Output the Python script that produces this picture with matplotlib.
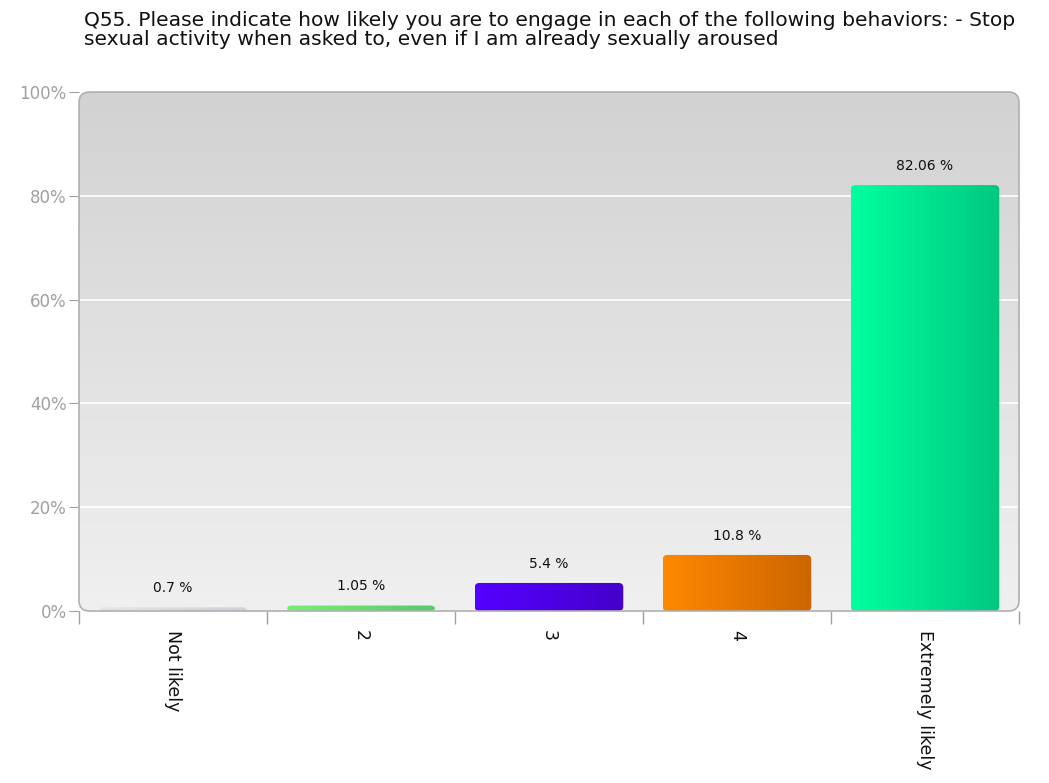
import numpy as np
import matplotlib
matplotlib.use("Agg")
import matplotlib.pyplot as plt
from matplotlib.patches import FancyBboxPatch
from matplotlib.colors import LinearSegmentedColormap

# Data
categories = ["Not likely", "2", "3", "4", "Extremely likely"]
percents = [0.7, 1.05, 5.4, 10.8, 82.06]
value_labels = ["0.7%", "1.05%", "5.4%", "10.8%", "82.06%"]
bar_left_colors = ["#e4e4ea", "#77ee77", "#5500ff", "#ff8800", "#00ff9f"]
bar_right_colors = ["#d0d0d8", "#55cc66", "#4400cc", "#cc6600", "#00c880"]
y_ticks = [0, 20, 40, 60, 80, 100]
title = ("Q55. Please indicate how likely you are to engage in each of the following behaviors: - Stop\n"
         "sexual activity when asked to, even if I am already sexually aroused")

fig = plt.figure(figsize=(10.49, 7.83), dpi=100)
ax = fig.add_axes([79 / 1049, 1 - 611 / 783, 940 / 1049, 519 / 783])

# Rounded plot area with vertical gray gradient
frame = FancyBboxPatch((0, 0), 1, 1, boxstyle="round,pad=0,rounding_size=0.011",
                       mutation_aspect=1.81, transform=ax.transAxes,
                       facecolor="none", edgecolor="#b0b0b0", linewidth=1.2,
                       zorder=5, clip_on=False)
ax.add_patch(frame)
bg_cmap = LinearSegmentedColormap.from_list("bg", ["#f0f0f0", "#d2d2d2"])
bg = ax.imshow(np.linspace(0, 1, 256).reshape(-1, 1), cmap=bg_cmap, aspect="auto",
               extent=[0, 1, 0, 1], origin="lower", transform=ax.transAxes, zorder=0)
bg.set_clip_path(frame)

x = np.arange(len(categories)) + 0.5
bars = ax.bar(x, percents, width=0.79, color=bar_left_colors, linewidth=0, zorder=3)

# Horizontal gradient on each bar, with slightly rounded top corners
for bar, c1, c2 in zip(bars, bar_left_colors, bar_right_colors):
    cm = LinearSegmentedColormap.from_list("b", [c1, c2])
    x0, y0 = bar.get_x(), bar.get_y()
    w, h = bar.get_width(), bar.get_height()
    bar.set_visible(False)
    shape = FancyBboxPatch((x0, y0), w, h, boxstyle="round,pad=0,rounding_size=0.025",
                           mutation_aspect=34, facecolor="none", edgecolor="none")
    ax.add_patch(shape)
    im = ax.imshow(np.linspace(0, 1, 128).reshape(1, -1), cmap=cm, aspect="auto",
                   extent=[x0, x0 + w, y0, y0 + h], zorder=3.5)
    im.set_clip_path(shape)

for xi, p, lab in zip(x, percents, value_labels):
    ax.annotate(lab.replace("%", " %"), (xi, p), xytext=(0, 14), textcoords="offset points",
                ha="center", va="center", fontsize=10, color="#111111", zorder=6)

ax.set_xlim(0, len(categories))
ax.set_ylim(0, 100)

for yt in y_ticks[1:-1]:
    ax.axhline(yt, color="white", linewidth=1.2, zorder=1)

for s in ax.spines.values():
    s.set_visible(False)

ax.set_yticks(y_ticks)
ax.set_yticklabels([f"{t}%" for t in y_ticks], color="#a0a0a0", fontsize=12)
ax.tick_params(axis="y", length=7, color="#a0a0a0", pad=2)

ax.set_xticks(x)
ax.set_xticklabels(categories, rotation=-90, fontsize=12.5, color="#111111")
ax.tick_params(axis="x", length=0, pad=14)
ax.set_xticks(np.arange(len(categories) + 1), minor=True)
ax.tick_params(axis="x", which="minor", length=9, color="#a0a0a0", width=1)

fig.text(84 / 1049, 1 - 11 / 783, title, ha="left", va="top", fontsize=14.6, color="#111111",
         linespacing=1.0)

fig.savefig("out.png", dpi=100)
